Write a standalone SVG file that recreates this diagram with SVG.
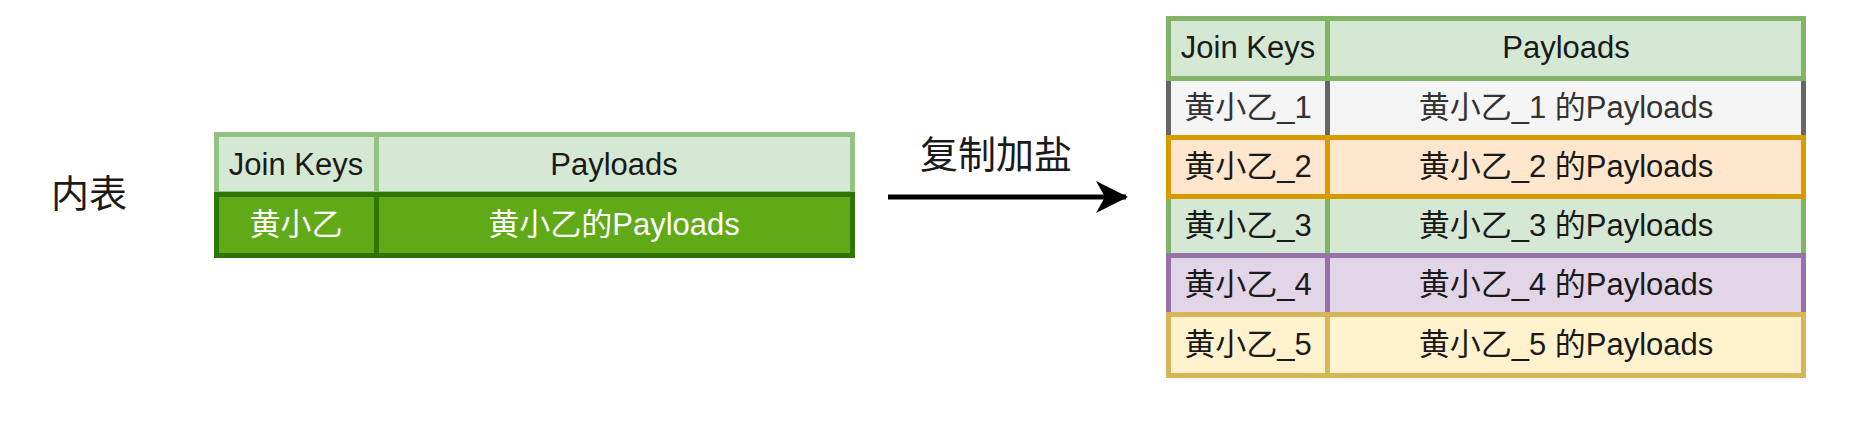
<svg xmlns="http://www.w3.org/2000/svg" width="1854" height="422" viewBox="0 0 1854 422">
<style>
text{font-family:"Liberation Sans","Noto Sans CJK SC",sans-serif;font-size:31px;text-anchor:middle;dominant-baseline:central;fill:#1a1a1a}
.c{stroke-width:5}
.w{fill:#ffffff}
.g1{fill:#333333}
</style>
<defs>
<marker id="arr" viewBox="0 0 32 32" refX="30" refY="16" markerWidth="32" markerHeight="32" markerUnits="userSpaceOnUse" orient="auto">
<path d="M0,0 L32,16 L0,32 L9,16 Z" fill="#000"/>
</marker>
</defs>
<rect width="1854" height="422" fill="#ffffff"/>
<g id="label-inner">
<text x="89" y="194" style="font-size:38px">内表</text>
</g>
<g id="left-table">
<g id="lt-header">
<rect class="c" x="216.5" y="134.5" width="160" height="59" fill="#d5e8d4" stroke="#93c382"/>
<rect class="c" x="376.5" y="134.5" width="476" height="59" fill="#d5e8d4" stroke="#93c382"/>
<text x="296" y="164">Join Keys</text>
<text x="614" y="164">Payloads</text>
</g>
<g id="lt-row">
<rect class="c" x="216.5" y="194.5" width="160" height="61" fill="#60a917" stroke="#2d7600"/>
<rect class="c" x="376.5" y="194.5" width="476" height="61" fill="#60a917" stroke="#2d7600"/>
<text class="w" x="296" y="224">黄小乙</text>
<text class="w" x="614" y="224">黄小乙的Payloads</text>
</g>
</g>
<g id="connectors">
<line x1="888" y1="197" x2="1126" y2="197" stroke="#000" stroke-width="5" marker-end="url(#arr)"/>
<text x="996" y="155" style="font-size:38px">复制加盐</text>
</g>
<g id="right-table">
<g id="rt-row1">
<rect class="c" x="1168.5" y="78.5" width="159" height="59" fill="#f5f5f5" stroke="#666666"/>
<rect class="c" x="1327.5" y="78.5" width="476" height="59" fill="#f5f5f5" stroke="#666666"/>
<text class="g1" x="1248" y="107">黄小乙_1</text>
<text class="g1" x="1566" y="107">黄小乙_1 的Payloads</text>
</g>
<g id="rt-row3">
<rect class="c" x="1168.5" y="196.5" width="159" height="59" fill="#d5e8d4" stroke="#82b366"/>
<rect class="c" x="1327.5" y="196.5" width="476" height="59" fill="#d5e8d4" stroke="#82b366"/>
<text x="1248" y="225">黄小乙_3</text>
<text x="1566" y="225">黄小乙_3 的Payloads</text>
</g>
<g id="rt-header">
<rect class="c" x="1168.5" y="18.5" width="159" height="60" fill="#d5e8d4" stroke="#82b366"/>
<rect class="c" x="1327.5" y="18.5" width="476" height="60" fill="#d5e8d4" stroke="#82b366"/>
<text x="1248" y="47">Join Keys</text>
<text x="1566" y="47">Payloads</text>
</g>
<g id="rt-row2">
<rect class="c" x="1168.5" y="137.5" width="159" height="59" fill="#ffe6cc" stroke="#d79b00"/>
<rect class="c" x="1327.5" y="137.5" width="476" height="59" fill="#ffe6cc" stroke="#d79b00"/>
<text x="1248" y="166">黄小乙_2</text>
<text x="1566" y="166">黄小乙_2 的Payloads</text>
</g>
<g id="rt-row4">
<rect class="c" x="1168.5" y="255.5" width="159" height="59" fill="#e1d5e7" stroke="#9673a6"/>
<rect class="c" x="1327.5" y="255.5" width="476" height="59" fill="#e1d5e7" stroke="#9673a6"/>
<text x="1248" y="284">黄小乙_4</text>
<text x="1566" y="284">黄小乙_4 的Payloads</text>
</g>
<g id="rt-row5">
<rect class="c" x="1168.5" y="314.5" width="159" height="61" fill="#fff2cc" stroke="#d6b656"/>
<rect class="c" x="1327.5" y="314.5" width="476" height="61" fill="#fff2cc" stroke="#d6b656"/>
<text x="1248" y="344">黄小乙_5</text>
<text x="1566" y="344">黄小乙_5 的Payloads</text>
</g>
</g>
</svg>
